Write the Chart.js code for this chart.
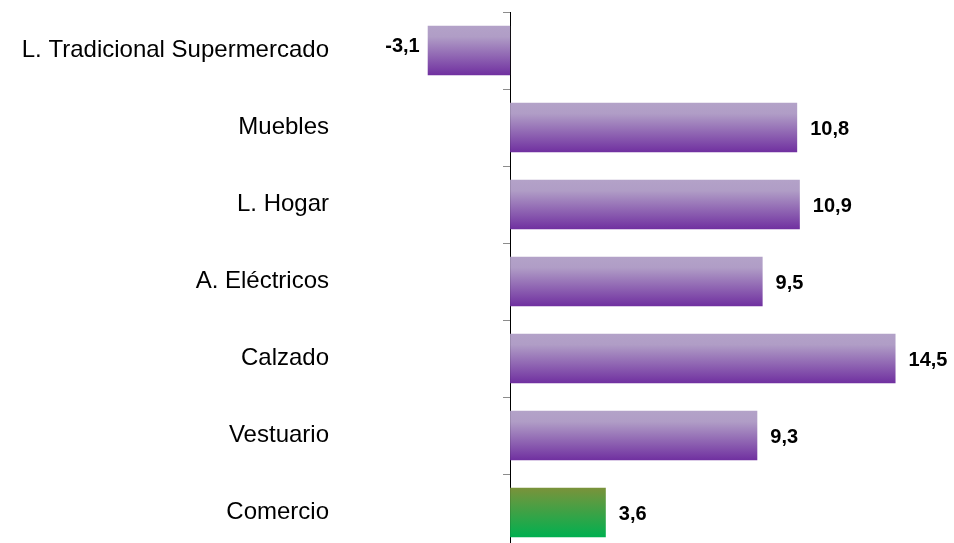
<!DOCTYPE html>
<html>
<head>
<meta charset="utf-8">
<script src="https://cdn.jsdelivr.net/npm/chart.js@4"></script>
<style>
  html, body { margin: 0; padding: 0; background: #fff; overflow: hidden; }
  #wrap { width: 954px; height: 563px; position: relative; }
</style>
</head>
<body>
<div id="wrap"><canvas id="myChart"></canvas></div>
<script>
const categories = ['L. Tradicional Supermercado', 'Muebles', 'L. Hogar', 'A. Eléctricos', 'Calzado', 'Vestuario', 'Comercio'];
const values = [-3.1, 10.8, 10.9, 9.5, 14.5, 9.3, 3.6];
const highlight = [false, false, false, false, false, false, true];

// vertical gradient per bar (light on top, dark at bottom)
function barFill(context) {
    const chart = context.chart;
    const yScale = chart.scales.y;
    const purple = ['#b3a2c8', '#b09dc6', '#7030a0'];
    const green = ['#7a923a', '#5f9a40', '#00b050'];
    const cols = highlight[context.dataIndex] ? green : purple;
    if (!chart.chartArea || !yScale) return cols[2];
    const cy = yScale.getPixelForValue(context.dataIndex);
    const half = (yScale.getPixelForValue(1) - yScale.getPixelForValue(0)) * 0.64 / 2;
    const g = chart.ctx.createLinearGradient(0, cy - half, 0, cy + half);
    g.addColorStop(0, cols[0]);
    g.addColorStop(0.22, cols[1]);
    g.addColorStop(1, cols[2]);
    return g;
}

const valueLabels = {
    id: 'valueLabels',
    afterDatasetsDraw(chart) {
        const ctx = chart.ctx;
        const meta = chart.getDatasetMeta(0);
        ctx.save();
        ctx.font = 'bold 20px "Liberation Sans", Arial, sans-serif';
        ctx.fillStyle = '#000';
        ctx.textBaseline = 'middle';
        meta.data.forEach((bar, i) => {
            const v = values[i];
            const txt = v.toFixed(1).replace('.', ',');
            if (v >= 0) {
                ctx.textAlign = 'left';
                ctx.fillText(txt, bar.x + 13, bar.y + 2);
            } else {
                ctx.textAlign = 'right';
                ctx.fillText(txt, bar.x - 8, bar.y - 4);
            }
        });
        ctx.restore();
    }
};

const ctx = document.getElementById('myChart').getContext('2d');
const myChart = new Chart(ctx, {
    type: 'bar',
    data: {
        labels: categories,
        datasets: [{
            data: values,
            backgroundColor: barFill,
            borderWidth: 0,
            categoryPercentage: 1,
            barPercentage: 0.64,
            yAxisID: 'y'
        }]
    },
    options: {
        indexAxis: 'y',
        responsive: true,
        maintainAspectRatio: false,
        animation: false,
        layout: { padding: 0 },
        plugins: {
            legend: { display: false },
            tooltip: { enabled: false }
        },
        scales: {
            x: {
                display: false,
                min: -6.4,
                max: 16.7
            },
            y: {
                type: 'category',
                position: 'left',
                offset: true,
                grid: { display: false, drawTicks: true, tickLength: 11 },
                border: { display: false },
                ticks: {
                    color: '#000',
                    padding: 0,
                    font: { family: '"Liberation Sans", Arial, sans-serif', size: 24, lineHeight: 1 }
                },
                afterFit: (scale) => { scale.width = 340; }
            },
            y2: {
                type: 'category',
                axis: 'y',
                position: { x: 0 },
                offset: true,
                grid: {
                    display: true,
                    drawOnChartArea: false,
                    drawTicks: true,
                    tickLength: 7,
                    color: '#8c8c8c',
                    lineWidth: 1
                },
                border: { display: true, color: '#000', width: 1 },
                ticks: { display: false }
            }
        }
    },
    plugins: [valueLabels]
});
</script>
</body>
</html>
